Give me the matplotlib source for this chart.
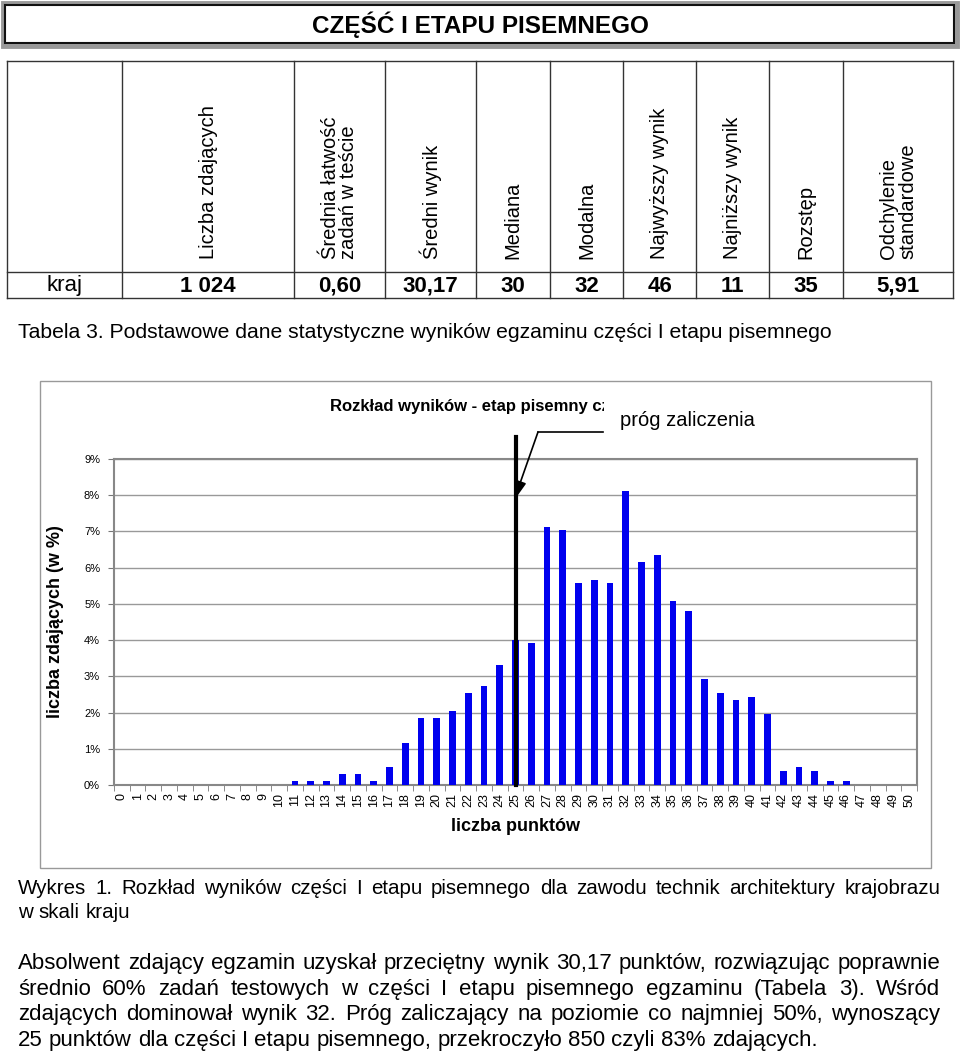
import matplotlib
matplotlib.use("Agg")
import matplotlib.pyplot as plt
import matplotlib.transforms as mtransforms
from matplotlib.patches import Rectangle

plt.rcParams["font.family"] = ["Liberation Sans", "DejaVu Sans"]

# ---- data ----
page_title = "CZĘŚĆ I ETAPU PISEMNEGO"
table_headers = ["Liczba zdających", "Średnia łatwość\nzadań w teście", "Średni wynik",
                 "Mediana", "Modalna", "Najwyższy wynik", "Najniższy wynik",
                 "Rozstęp", "Odchylenie\nstandardowe"]
table_row_label = "kraj"
table_values = ["1 024", "0,60", "30,17", "30", "32", "46", "11", "35", "5,91"]

points = list(range(51))
percent = [0, 0, 0, 0, 0, 0, 0, 0, 0, 0,
           0, 0.1, 0.1, 0.1, 0.29, 0.29, 0.1, 0.49, 1.17, 1.86,
           1.86, 2.05, 2.54, 2.73, 3.32, 4.0, 3.91, 7.13, 7.03, 5.57,
           5.66, 5.57, 8.11, 6.15, 6.35, 5.08, 4.79, 2.93, 2.54, 2.34,
           2.44, 1.95, 0.39, 0.49, 0.39, 0.1, 0.1, 0, 0, 0,
           0]
threshold = 25

chart_title = "Rozkład wyników - etap pisemny część I"
threshold_label = "próg zaliczenia"
x_label = "liczba punktów"
y_label = "liczba zdających (w %)"

table_caption = "Tabela 3. Podstawowe dane statystyczne wyników egzaminu części I etapu pisemnego"
chart_caption = [
    "Wykres 1. Rozkład wyników części I etapu pisemnego dla zawodu technik architektury krajobrazu",
    "w skali kraju",
]
summary = [
    "Absolwent zdający egzamin uzyskał przeciętny wynik 30,17 punktów, rozwiązując poprawnie",
    "średnio 60% zadań testowych w części I etapu pisemnego egzaminu (Tabela 3). Wśród",
    "zdających dominował wynik 32. Próg zaliczający na poziomie co najmniej 50%, wynoszący",
    "25 punktów dla części I etapu pisemnego, przekroczyło 850 czyli 83% zdających.",
]

W, H = 960, 1054
fig = plt.figure(figsize=(W / 100, H / 100), dpi=100)

# ---- chart ----
ax = fig.add_axes([114 / W, 1 - 785 / H, (917 - 114) / W, (785 - 459) / H])
ax.bar(points, percent, width=0.43, color="#0000ee", zorder=3)
ax.set_xlim(-0.5, 50.5)
ax.set_ylim(0, 9)
ax.set_yticks(range(10))
ax.set_yticklabels([f"{i}%" for i in range(10)], fontsize=8)
ax.set_xticks(points)
ax.set_xticklabels([str(p) for p in points], rotation=90, fontsize=9)
ax.set_xticks([p - 0.5 for p in points] + [50.5], minor=True)
ax.tick_params(axis="x", which="major", length=0, pad=6)
ax.tick_params(axis="x", which="minor", length=4, color="#777777")
ax.tick_params(axis="y", length=4, color="#777777", pad=6)
ax.yaxis.grid(True, color="#999999", lw=1)
ax.set_axisbelow(True)
for s in ax.spines.values():
    s.set_color("#888888")
    s.set_linewidth(1.5)
ax.set_xlabel(x_label, fontsize=13, fontweight="bold")
ax.xaxis.set_label_coords(0.5, -0.1)
ax.set_ylabel(y_label, fontsize=13, fontweight="bold")
ax.yaxis.set_label_coords(-0.062, 0.5)

# ---- page overlay (pixel coordinates, y down) ----
page = fig.add_axes([0, 0, 1, 1])
page.set_xlim(0, W)
page.set_ylim(H, 0)
page.axis("off")
page.patch.set_alpha(0)

# title box
page.add_patch(Rectangle((2.5, 2.5), 954, 43, fc="white", ec="#999999", lw=3.5))
page.add_patch(Rectangle((5, 5), 949, 38, fc="none", ec="#111111", lw=1.5))
page.text(480, 25, page_title, ha="center", va="center", fontsize=17.5, fontweight="bold")

# table
col_x = [7, 122, 294, 385, 476, 550, 623, 696, 769, 843, 953]
for y in (61, 272, 298):
    page.plot([col_x[0], col_x[-1]], [y, y], color="#333333", lw=1)
for x in col_x:
    page.plot([x, x], [61, 298], color="#333333", lw=1)
for i, (hdr, val) in enumerate(zip(table_headers, table_values)):
    cx = (col_x[i + 1] + col_x[i + 2]) / 2
    page.text(cx, 259, hdr, rotation=90, ha="center", va="bottom",
              multialignment="left", fontsize=14.5, linespacing=1.0)
    page.text(cx, 286, val, ha="center", va="center", fontsize=16, fontweight="bold")
page.text((col_x[0] + col_x[1]) / 2, 286, table_row_label, ha="center", va="center", fontsize=16)

page.text(18, 333, table_caption, ha="left", va="center", fontsize=15.2)

# chart frame
page.add_patch(Rectangle((40, 381), 891, 487, fc="none", ec="#999999", lw=1))

# chart title and threshold marker
page.text(330, 406, chart_title, ha="left", va="center", fontsize=12, fontweight="bold", zorder=5)
page.text(620, 420, threshold_label, ha="left", va="center", fontsize=14.5, zorder=6,
          bbox=dict(boxstyle="square,pad=0.8", fc="white", ec="none"))
blend = mtransforms.blended_transform_factory(ax.transData, page.transData)
page.plot([threshold, threshold], [437, 785], color="black", lw=3, transform=blend, zorder=7)
page.plot([538, 603], [432, 432], color="black", lw=1.2, zorder=7)
page.annotate("", xy=(threshold - 0.1, 7.85), xycoords=ax.transData,
              xytext=(538, 432), textcoords=page.transData,
              arrowprops=dict(arrowstyle="-|>,head_length=1.2,head_width=0.35",
                              color="black", lw=1.2, shrinkA=0, shrinkB=0),
              zorder=7)

# ---- justified paragraphs ----
renderer = fig.canvas.get_renderer()


def write_line(line, y, x0, x1, size, justify):
    # y is the visual middle of the line; words share one baseline
    base = y + size * 0.38
    words = line.split(" ")
    texts = [page.text(0, base, w, ha="left", va="baseline", fontsize=size) for w in words]
    widths = [t.get_window_extent(renderer).width for t in texts]
    if justify and len(words) > 1:
        gap = (x1 - x0 - sum(widths)) / (len(words) - 1)
    else:
        space = page.text(0, base, "a a", fontsize=size)
        one = page.text(0, base, "aa", fontsize=size)
        gap = space.get_window_extent(renderer).width - one.get_window_extent(renderer).width
        space.remove()
        one.remove()
    x = x0
    for t, w in zip(texts, widths):
        t.set_x(x)
        x += w + gap


for i, line in enumerate(chart_caption):
    write_line(line, 888 + i * 24, 18, 940, 14.8, i < len(chart_caption) - 1)
for i, line in enumerate(summary):
    write_line(line, 963 + i * 25.5, 18, 940, 16, i < len(summary) - 1)

fig.savefig("out.png", dpi=100)
